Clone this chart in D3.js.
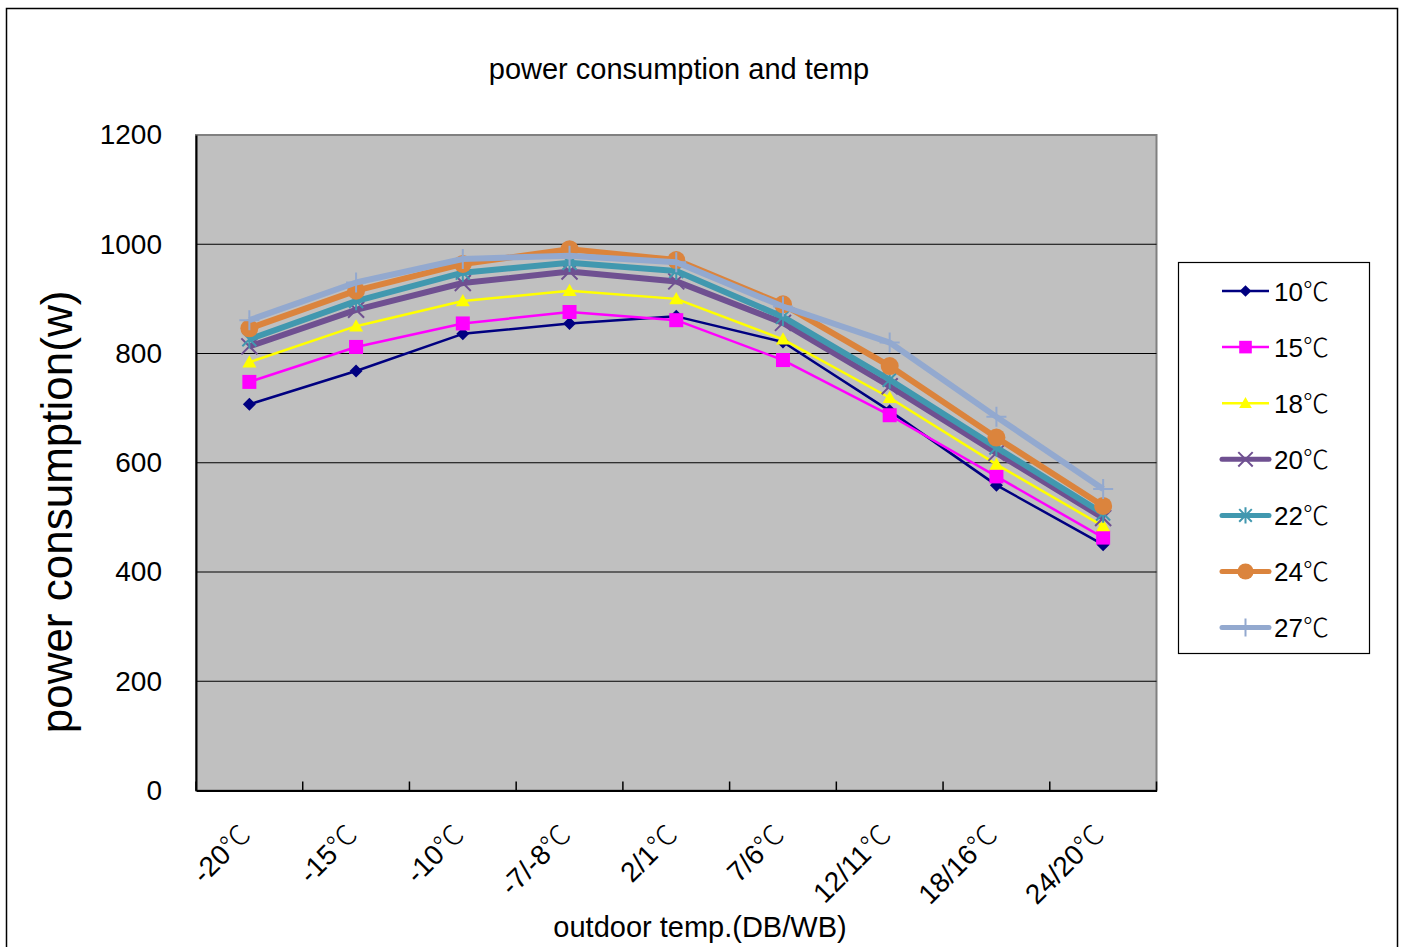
<!DOCTYPE html>
<html>
<head>
<meta charset="utf-8">
<script src="https://cdn.jsdelivr.net/npm/d3@7"></script>
<style>
html,body{margin:0;padding:0;background:#fff;}
svg{display:block;font-family:"Liberation Sans",Arial,"Noto Sans CJK SC",sans-serif;}
.deg{font-family:"Noto Sans CJK SC","Noto Sans CJK JP",sans-serif;font-weight:300;}
</style>
</head>
<body>
<svg id="chart" width="1404" height="947"></svg>
<script>
const categories = ["-20℃","-15℃","-10℃","-7/-8℃","2/1℃","7/6℃","12/11℃","18/16℃","24/20℃"];
const seriesNames = ["10℃","15℃","18℃","20℃","22℃","24℃","27℃"];
const s10 = [707, 768, 836, 855, 868, 821, 695, 559, 450];
const s15 = [748, 812, 855, 876, 861, 788, 687, 575, 463];
const s18 = [784, 850, 896, 915, 900, 826, 719, 597, 484];
const s20 = [813, 880, 929, 950, 932, 856, 740, 618, 499];
const s22 = [826, 896, 948, 966, 951, 867, 752, 628, 507];
const s24 = [846, 915, 964, 991, 971, 890, 777, 646, 521];
const s27 = [861, 930, 973, 979, 967, 886, 820, 684, 552];
const yTicks = [0, 200, 400, 600, 800, 1000, 1200];

const seriesValues = [s10, s15, s18, s20, s22, s24, s27];
const styles = [
  {color:"#000080", width:2.5, marker:"diamond"},
  {color:"#FF00FF", width:2.5, marker:"square"},
  {color:"#FFFF00", width:2.5, marker:"triangle"},
  {color:"#6F5091", width:6, marker:"x"},
  {color:"#4198AF", width:6, marker:"asterisk"},
  {color:"#DB843D", width:6, marker:"circle"},
  {color:"#93A9CF", width:6, marker:"plus"}
];

// write text with the ℃ sign in a CJK font
function degText(sel, str) {
  const parts = str.split("℃");
  sel.text(null);
  sel.append("tspan").text(parts[0]);
  if (parts.length > 1) sel.append("tspan").attr("class","deg").text("℃");
}

const svg = d3.select("#chart");
const L = 196, R = 1156.5, T = 135, B = 790.5;

// outer border
svg.append("rect").attr("x",6.5).attr("y",8.5).attr("width",1391).attr("height",970)
  .attr("fill","#fff").attr("stroke","#000").attr("stroke-width",1.5);

const x = d3.scaleBand().domain(categories).range([L, R]).padding(0);
const y = d3.scaleLinear().domain([0, 1200]).range([B, T]);
const cx = c => x(c) + x.bandwidth()/2;

// plot area
svg.append("rect").attr("x",L).attr("y",T).attr("width",R-L).attr("height",B-T)
  .attr("fill","#C0C0C0").attr("stroke","#808080").attr("stroke-width",2);

// gridlines
svg.append("g").selectAll("line").data(yTicks.filter(v=>v>0 && v<1200)).join("line")
  .attr("x1",L).attr("x2",R).attr("y1",d=>y(d)).attr("y2",d=>y(d))
  .attr("stroke","#000").attr("stroke-width",1.2);

// axes
const yAxis = d3.axisLeft(y).tickValues(yTicks).tickFormat(d3.format("d")).tickSize(0).tickPadding(34);
const gy = svg.append("g").attr("transform",`translate(${L},0)`).call(yAxis);
gy.select(".domain").attr("stroke","#000").attr("stroke-width",2);
gy.selectAll("text").attr("font-size",28).attr("fill","#000")
  .attr("font-family",'"Liberation Sans",Arial,sans-serif');

const xAxis = d3.axisBottom(x).tickValues([]).tickSize(0);
const gx = svg.append("g").attr("transform",`translate(0,${B})`).call(xAxis);
gx.select(".domain").attr("stroke","#000").attr("stroke-width",2);
// inside tick marks at band boundaries
const bounds = categories.map(c => x(c)).concat([x(categories[categories.length-1]) + x.bandwidth()]);
svg.append("g").selectAll("line").data(bounds).join("line")
  .attr("x1",d=>d).attr("x2",d=>d).attr("y1",B).attr("y2",B-9)
  .attr("stroke","#000").attr("stroke-width",1.5);

// x labels rotated
svg.append("g").selectAll("text").data(categories).join("text")
  .attr("transform",d=>`translate(${cx(d)+3},${B+46}) rotate(-45)`)
  .attr("text-anchor","end").attr("font-size",28).attr("fill","#000")
  .each(function(d){ degText(d3.select(this), d); });

// titles
svg.append("text").attr("x",679).attr("y",79).attr("text-anchor","middle")
  .attr("font-size",29).attr("fill","#000").text("power consumption and temp");
svg.append("text").attr("x",700).attr("y",937).attr("text-anchor","middle")
  .attr("font-size",29).attr("fill","#000").text("outdoor temp.(DB/WB)");
svg.append("text").attr("transform","translate(72,512) rotate(-90)").attr("text-anchor","middle")
  .attr("font-size",44).attr("fill","#000").text("power consumption(w)");

// markers
function drawMarker(g, type, color, px, py, scale) {
  const s = scale || 1;
  if (type === "diamond") {
    const r = 6.5*s;
    g.append("path").attr("d",`M${px},${py-r}L${px+r},${py}L${px},${py+r}L${px-r},${py}Z`).attr("fill",color);
  } else if (type === "square") {
    const h = 7*s;
    g.append("rect").attr("x",px-h).attr("y",py-h).attr("width",2*h).attr("height",2*h).attr("fill",color);
  } else if (type === "triangle") {
    const h = 7*s;
    g.append("path").attr("d",`M${px},${py-h}L${px+h},${py+h*0.75}L${px-h},${py+h*0.75}Z`).attr("fill",color);
  } else if (type === "x") {
    const h = 8*s;
    g.append("path").attr("d",`M${px-h},${py-h}L${px+h},${py+h}M${px-h},${py+h}L${px+h},${py-h}`)
      .attr("stroke",color).attr("stroke-width",2).attr("fill","none");
  } else if (type === "asterisk") {
    const h = 7*s;
    g.append("path").attr("d",`M${px-h},${py-h}L${px+h},${py+h}M${px-h},${py+h}L${px+h},${py-h}M${px},${py-h*1.3}L${px},${py+h*1.3}`)
      .attr("stroke",color).attr("stroke-width",2).attr("fill","none");
  } else if (type === "circle") {
    g.append("circle").attr("cx",px).attr("cy",py).attr("r",9*s).attr("fill",color);
  } else if (type === "plus") {
    const h = 10*s;
    g.append("path").attr("d",`M${px-h},${py}L${px+h},${py}M${px},${py-h}L${px},${py+h}`)
      .attr("stroke",color).attr("stroke-width",2).attr("fill","none");
  }
}

const line = d3.line().x((d,i)=>cx(categories[i])).y(d=>y(d));
const plotG = svg.append("g");
seriesValues.forEach((vals, si) => {
  const st = styles[si];
  const g = plotG.append("g");
  g.append("path").datum(vals).attr("d",line).attr("fill","none")
    .attr("stroke",st.color).attr("stroke-width",st.width).attr("stroke-linejoin","round");
  vals.forEach((v,i) => drawMarker(g, st.marker, st.color, cx(categories[i]), y(v)));
});

// legend
const lg = svg.append("g");
lg.append("rect").attr("x",1178.5).attr("y",262.5).attr("width",191).attr("height",391)
  .attr("fill","#fff").attr("stroke","#000").attr("stroke-width",1.2);
seriesNames.forEach((name, i) => {
  const st = styles[i];
  const ly = 291 + i*56.1;
  lg.append("line").attr("x1",1222).attr("x2",1269).attr("y1",ly).attr("y2",ly)
    .attr("stroke",st.color).attr("stroke-width",st.width === 6 ? 5 : 2.5).attr("stroke-linecap", st.width===6?"round":"butt");
  drawMarker(lg, st.marker, st.color, 1245.5, ly, 0.9);
  const t = lg.append("text").attr("x",1274).attr("y",ly+9.5).attr("font-size",26).attr("fill","#000");
  degText(t, name);
});
</script>
</body>
</html>
